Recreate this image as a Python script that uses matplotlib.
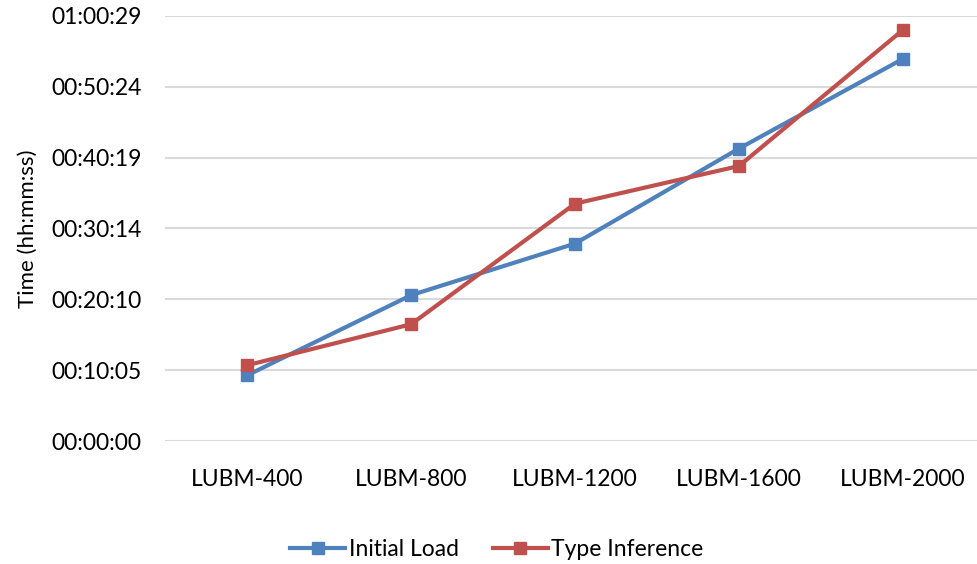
import matplotlib.pyplot as plt

categories = ['LUBM-400', 'LUBM-800', 'LUBM-1200', 'LUBM-1600', 'LUBM-2000']
# times in seconds
initial_load = [561, 1245, 1685, 2496, 3261]
type_inference = [647, 997, 2026, 2347, 3508]

tick_seconds = [0, 604.8, 1209.6, 1814.4, 2419.2, 3024, 3628.8]
tick_labels = ['00:00:00', '00:10:05', '00:20:10', '00:30:14', '00:40:19', '00:50:24', '01:00:29']

plt.rcParams['font.family'] = ['Lato', 'DejaVu Sans']

fig = plt.figure(figsize=(9.78, 5.64), dpi=100)
ax = fig.add_axes([0.169, 0.218, 0.838, 0.754])

x = range(len(categories))
ax.plot(x, initial_load, color='#4F81BD', lw=3, marker='s', ms=8, label='Initial Load')
ax.plot(x, type_inference, color='#C0504D', lw=3, marker='s', ms=8, label='Type Inference')

ax.set_xlim(-0.5, len(categories) - 0.5)
ax.set_ylim(0, tick_seconds[-1])
ax.set_yticks(tick_seconds)
ax.set_yticklabels(tick_labels, fontsize=16.5)
ax.set_xticks(list(x))
ax.set_xticklabels(categories, fontsize=16.5)
ax.tick_params(length=0)
ax.tick_params(axis='y', pad=17)
ax.tick_params(axis='x', pad=20)
ax.grid(axis='y', color='#D9D9D9', lw=1.5)
ax.set_axisbelow(True)
for s in ax.spines.values():
    s.set_visible(False)
ax.set_ylabel('Time (hh:mm:ss)', fontsize=16, labelpad=10)

fig.legend(loc='lower center', bbox_to_anchor=(0.508, -0.03), ncol=2, frameon=False,
           fontsize=16.5, handlelength=2.4, columnspacing=1.5, handletextpad=0.15)

fig.savefig('out.png', dpi=100)
